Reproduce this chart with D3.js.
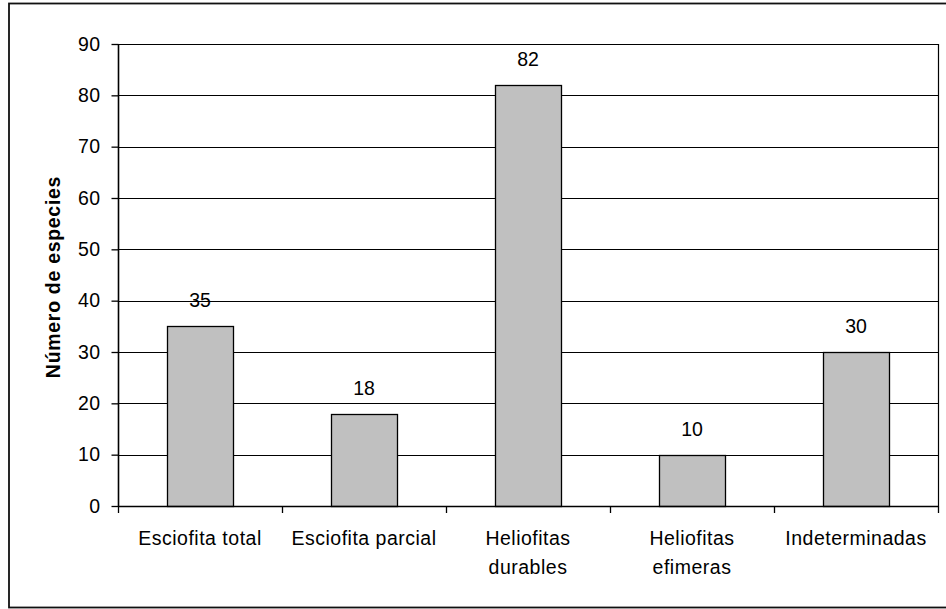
<!DOCTYPE html>
<html>
<head>
<meta charset="utf-8">
<script src="https://cdn.jsdelivr.net/npm/d3@7"></script>
<style>
  html, body { margin: 0; padding: 0; background: #fff; }
  svg { display: block; }
  text { font-family: Arial, "Liberation Sans", sans-serif; fill: #000; }
</style>
</head>
<body>
<svg id="chart" width="946" height="609"></svg>
<script>
// Número de especies por categoría de tolerancia a la luz
const categories = ["Esciofita total", "Esciofita parcial", "Heliofitas durables", "Heliofitas efimeras", "Indeterminadas"];
const categoryLines = [["Esciofita total"], ["Esciofita parcial"], ["Heliofitas", "durables"], ["Heliofitas", "efimeras"], ["Indeterminadas"]];
const values = [35, 18, 82, 10, 30];
const yTicks = [0, 10, 20, 30, 40, 50, 60, 70, 80, 90];
const yTitle = "Número de especies";

const svg = d3.select("#chart");
const plot = { left: 118, top: 44, right: 938, bottom: 506 };
const FS = 19.5;

// outer frame
svg.append("rect")
  .attr("x", 9).attr("y", 3.5)
  .attr("width", 940).attr("height", 604)
  .attr("fill", "none").attr("stroke", "#111").attr("stroke-width", 1.8);

const x = d3.scaleBand().domain(categories).range([plot.left, plot.right]).paddingInner(0).paddingOuter(0);
const y = d3.scaleLinear().domain([0, 90]).range([plot.bottom, plot.top]);

// gridlines
svg.append("g")
  .selectAll("line").data(yTicks.filter(d => d > 0)).join("line")
  .attr("x1", plot.left).attr("x2", plot.right)
  .attr("y1", d => Math.round(y(d)) + 0.5).attr("y2", d => Math.round(y(d)) + 0.5)
  .attr("stroke", "#000").attr("stroke-width", 1);

// right edge of plot area
svg.append("line")
  .attr("x1", plot.right + 0.5).attr("x2", plot.right + 0.5)
  .attr("y1", plot.top).attr("y2", plot.bottom)
  .attr("stroke", "#000").attr("stroke-width", 1.2);

// bars
const barW = x.bandwidth() * 0.4;
svg.append("g")
  .selectAll("rect").data(values).join("rect")
  .attr("x", (d, i) => Math.round(x(categories[i]) + (x.bandwidth() - barW) / 2) + 0.5)
  .attr("y", d => Math.round(y(d)) + 0.5)
  .attr("width", Math.round(barW))
  .attr("height", d => Math.round(y(0)) - Math.round(y(d)))
  .attr("fill", "#c0c0c0").attr("stroke", "#000").attr("stroke-width", 1.3);

// value labels
svg.append("g")
  .selectAll("text").data(values).join("text")
  .attr("x", (d, i) => x(categories[i]) + x.bandwidth() / 2)
  .attr("y", d => y(d) - 19)
  .attr("text-anchor", "middle")
  .attr("font-size", FS)
  .text(d => d);

// y axis
const yAxis = d3.axisLeft(y).tickValues(yTicks).tickSize(7).tickPadding(11);
const gy = svg.append("g").attr("transform", `translate(${plot.left + 0.5},0)`).call(yAxis);
gy.select(".domain").attr("stroke", "#000").attr("stroke-width", 1.6).attr("d", `M0,${plot.top}V${plot.bottom}`);
gy.selectAll(".tick line").attr("stroke", "#000").attr("stroke-width", 1.3);
gy.selectAll(".tick text").attr("font-size", FS).attr("font-family", "Arial, 'Liberation Sans', sans-serif").attr("fill", "#000").attr("letter-spacing", "0.4px");

// x axis: band boundaries carry tick marks
const bounds = categories.map(c => x(c)).concat([plot.right]);
svg.append("line")
  .attr("x1", plot.left).attr("x2", plot.right + 1)
  .attr("y1", plot.bottom + 0.5).attr("y2", plot.bottom + 0.5)
  .attr("stroke", "#000").attr("stroke-width", 1.6);
svg.append("g").selectAll("line").data(bounds).join("line")
  .attr("x1", d => d + 0.5).attr("x2", d => d + 0.5)
  .attr("y1", plot.bottom).attr("y2", plot.bottom + 7)
  .attr("stroke", "#000").attr("stroke-width", 1.3);

// category labels
const cl = svg.append("g").selectAll("text").data(categoryLines).join("text")
  .attr("x", (d, i) => x(categories[i]) + x.bandwidth() / 2)
  .attr("y", 545)
  .attr("text-anchor", "middle")
  .attr("font-size", FS)
  .attr("letter-spacing", "0.5px");
cl.selectAll("tspan").data(d => d).join("tspan")
  .attr("x", function () { return d3.select(this.parentNode).attr("x"); })
  .attr("dy", (d, i) => i === 0 ? 0 : 29)
  .text(d => d);

// y axis title
svg.append("text")
  .attr("transform", `translate(60, ${(plot.top + plot.bottom) / 2 + 2}) rotate(-90)`)
  .attr("text-anchor", "middle")
  .attr("font-size", FS)
  .attr("font-weight", "bold")
  .attr("letter-spacing", "0.7px")
  .text(yTitle);
</script>
</body>
</html>
